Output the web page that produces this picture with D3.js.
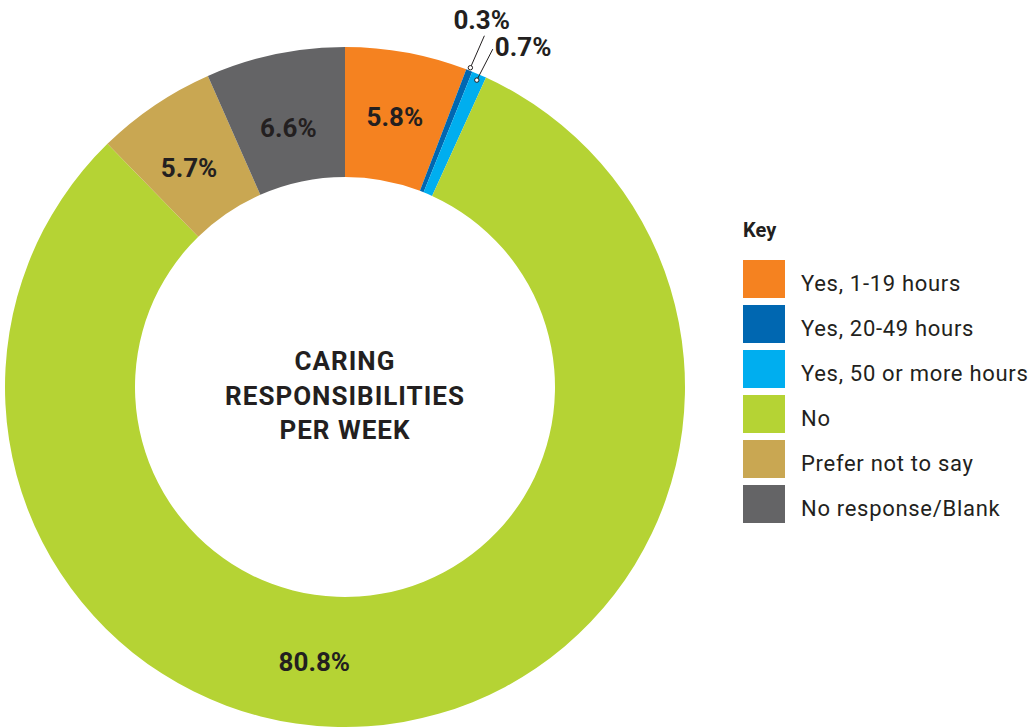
<!DOCTYPE html>
<html>
<head>
<meta charset="utf-8">
<script src="https://cdn.jsdelivr.net/npm/d3@7"></script>
<style>
  body { margin: 0; background: #fff; }
  text { font-family: Roboto, "Open Sans", sans-serif; fill: #231f20; }
</style>
</head>
<body>
<div id="chart"></div>
<script>
var categories = ["Yes, 1-19 hours", "Yes, 20-49 hours", "Yes, 50 or more hours", "No", "Prefer not to say", "No response/Blank"];
var values = [5.8, 0.3, 0.7, 80.8, 5.7, 6.6];
var colours = ["#f58220", "#0067b1", "#00aeef", "#b5d334", "#c9a752", "#646466"];
var title = ["CARING", "RESPONSIBILITIES", "PER WEEK"];

var width = 1030,
    height = 728;

var cx = 345, cy = 387,
    outerR = 340, innerR = 210;

var svg = d3.select("#chart").append("svg")
  .attr("width", width)
  .attr("height", height);

var data = categories.map(function(c, i) { return {name: c, value: values[i], colour: colours[i]}; });

var pie = d3.pie()
  .value(function(d) { return d.value; })
  .sort(null);

var arc = d3.arc()
  .innerRadius(innerR)
  .outerRadius(outerR);

var labelArc = d3.arc()
  .innerRadius(275)
  .outerRadius(275);

var g = svg.append("g").attr("transform", "translate(" + cx + "," + cy + ")");

var arcs = pie(data);

g.selectAll("path")
  .data(arcs)
  .enter().append("path")
    .attr("d", arc)
    .attr("fill", function(d) { return d.data.colour; });

// big slices get their label inside, small ones get a leader line
var big = arcs.filter(function(d) { return d.data.value > 2; });
var small = arcs.filter(function(d) { return d.data.value <= 2; });

// small nudges so the labels sit like the original
var nudge = {"No": [-78, 4], "No response/Blank": [0, 10], "Prefer not to say": [-2, 8]};

g.selectAll("text.val")
  .data(big)
  .enter().append("text")
    .attr("class", "val")
    .attr("transform", function(d) {
      var c = labelArc.centroid(d), n = nudge[d.data.name] || [0, 0];
      return "translate(" + (c[0] + n[0]) + "," + (c[1] + n[1]) + ")";
    })
    .attr("text-anchor", "middle")
    .attr("dy", "0.36em")
    .attr("font-size", 26)
    .attr("font-weight", "bold")
    .text(function(d) { return d.data.value.toFixed(1) + "%"; });

// leader line: dot radius, line vector, text offset from line end
var leader = [{r0: 343, dx: 14, dy: -32, tx: -31, ty: -7},
              {r0: 334, dx: 16, dy: -31, tx: 2, ty: 7}];

function dot(d, i) {
  var a = (d.startAngle + d.endAngle) / 2, r = leader[i].r0;
  return [r * Math.sin(a), -r * Math.cos(a)];
}

var lead = g.selectAll("g.lead")
  .data(small)
  .enter().append("g")
    .attr("class", "lead");

lead.append("line")
  .attr("x1", function(d, i) { return dot(d, i)[0]; })
  .attr("y1", function(d, i) { return dot(d, i)[1]; })
  .attr("x2", function(d, i) { return dot(d, i)[0] + leader[i].dx; })
  .attr("y2", function(d, i) { return dot(d, i)[1] + leader[i].dy; })
  .attr("stroke", "#231f20")
  .attr("stroke-width", 1);

lead.append("circle")
  .attr("cx", function(d, i) { return dot(d, i)[0]; })
  .attr("cy", function(d, i) { return dot(d, i)[1]; })
  .attr("r", 2.2)
  .attr("fill", "#fff")
  .attr("stroke", "#231f20")
  .attr("stroke-width", 1);

lead.append("text")
  .attr("x", function(d, i) { return dot(d, i)[0] + leader[i].dx + leader[i].tx; })
  .attr("y", function(d, i) { return dot(d, i)[1] + leader[i].dy + leader[i].ty; })
  .attr("font-size", 26)
  .attr("font-weight", "bold")
  .text(function(d) { return d.data.value.toFixed(1) + "%"; });

// centre title
g.append("text")
  .attr("text-anchor", "middle")
  .attr("font-size", 26)
  .attr("font-weight", "bold")
  .attr("letter-spacing", 1)
  .selectAll("tspan")
  .data(title)
  .enter().append("tspan")
    .attr("x", 0)
    .attr("y", function(d, i) { return -17 + i * 34.5; })
    .text(function(d) { return d; });

// key
var legend = svg.append("g").attr("transform", "translate(743,0)");

legend.append("text")
  .attr("x", 0)
  .attr("y", 237)
  .attr("font-size", 20)
  .attr("font-weight", "bold")
  .text("Key");

var item = legend.selectAll("g.item")
  .data(data)
  .enter().append("g")
    .attr("class", "item")
    .attr("transform", function(d, i) { return "translate(0," + (260 + i * 45) + ")"; });

item.append("rect")
  .attr("width", 42)
  .attr("height", 38)
  .attr("fill", function(d) { return d.colour; });

item.append("text")
  .attr("x", 58)
  .attr("y", 23)
  .attr("dy", "0.36em")
  .attr("font-size", 22)
  .attr("letter-spacing", 0.7)
  .text(function(d) { return d.name; });
</script>
</body>
</html>
